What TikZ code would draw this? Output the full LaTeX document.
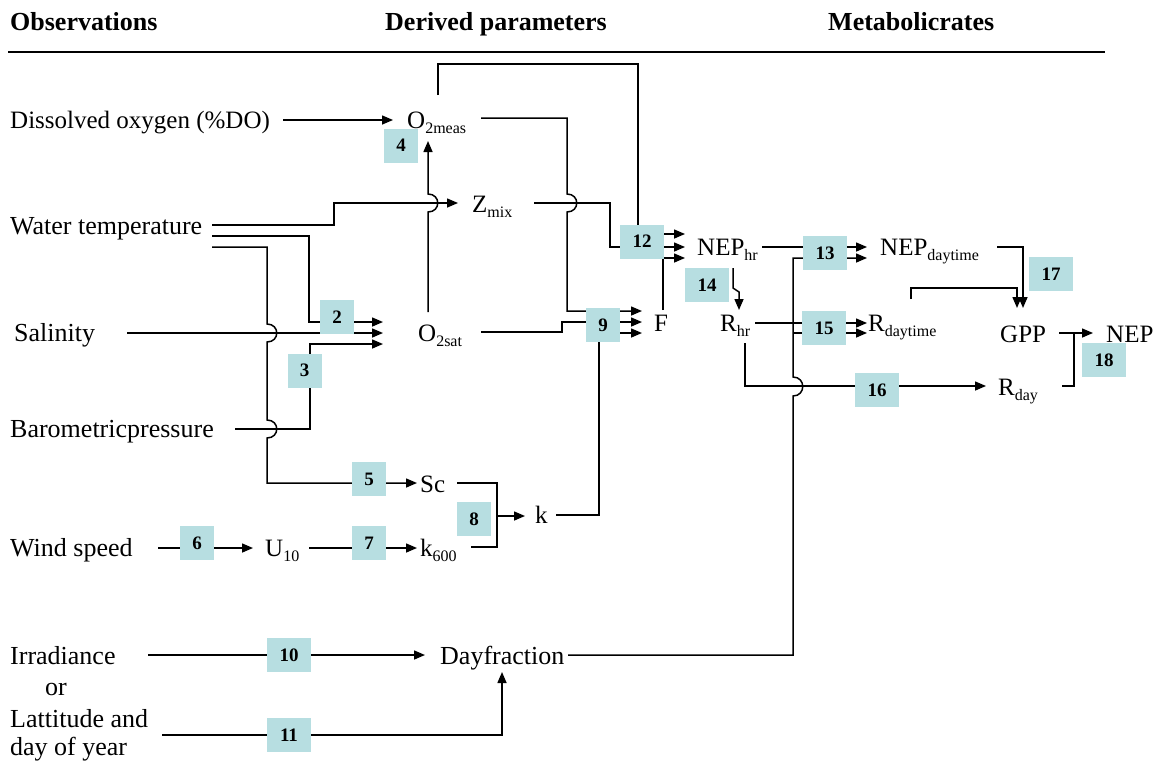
\documentclass[tikz,border=0pt]{standalone}
\usepackage{fontspec}
\setmainfont{Liberation Serif}
\usetikzlibrary{arrows.meta,backgrounds}
\definecolor{boxc}{RGB}{183,222,225}
\newcommand{\sbs}[1]{\raisebox{-5pt}{\fontsize{16}{16}\selectfont #1}}
\begin{document}
\begin{tikzpicture}[x=1pt,y=-1pt,
  txt/.style={anchor=base west, inner sep=0pt, font=\fontsize{25}{30}\selectfont},
  obs/.style={txt, font=\fontsize{26}{30}\selectfont},
  hdr/.style={anchor=base west, inner sep=0pt, font=\fontsize{26}{30}\selectfont\bfseries},
  nb/.style={fill=boxc, draw=none, minimum width=34pt, minimum height=34pt, inner sep=0pt, font=\fontsize{19}{19}\selectfont\bfseries},
  nbw/.style={nb, minimum width=44pt},
  conn/.style={line width=1.5pt},
  arr/.style={conn, -{Triangle[length=11pt,width=9pt]}}]
\useasboundingbox (0,0) rectangle (1158,763);

% headers
\node[hdr] (h1) at (10,30) {Observations};
\node[hdr] (h2) at (385,30) {Derived parameters};
\node[hdr] (h3) at (828,30) {Metabolicrates};
\draw[line width=1.2pt] (8,52) -- (1105,52);

% observations
\node[txt] (do) at (10,128) {Dissolved oxygen (\%DO)};
\node[obs] (wt) at (10,234) {Water temperature};
\node[obs] (sal) at (14,341) {Salinity};
\node[obs] (bp) at (10,437) {Barometricpressure};
\node[obs] (ws) at (10,556) {Wind speed};
\node[obs] (irr) at (10,664) {Irradiance};
\node[obs] (or) at (45,695) {or};
\node[obs] (lat) at (10,727) {Lattitude and};
\node[obs] (doy) at (10,755) {day of year};

% derived
\node[txt] (o2meas) at (407,128) {O\sbs{2meas}};
\node[txt] (zmix) at (472,212) {Z\sbs{mix}};
\node[txt] (o2sat) at (418,341) {O\sbs{2sat}};
\node[txt] (sc) at (420,492) {Sc};
\node[txt] (k) at (535,523) {k};
\node[txt] (u10) at (265,556) {U\sbs{10}};
\node[txt] (k600) at (420,556) {k\sbs{600}};
\node[txt] (F) at (654,331) {F};
\node[obs] (day) at (440,664) {Dayfraction};

% metabolic
\node[txt] (nephr) at (697,255) {NEP\sbs{hr}};
\node[txt] (rhr) at (720,331) {R\sbs{hr}};
\node[txt] (nepday) at (880,255) {NEP\sbs{daytime}};
\node[txt] (rdaytime) at (868,331) {R\sbs{daytime}};
\node[txt] (gpp) at (1000,342) {GPP};
\node[txt] (nep) at (1106,342) {NEP};
\node[txt] (rday) at (998,395) {R\sbs{day}};

% numbered boxes
\node[nb] (b2) at (337,317) {2};
\node[nb] (b3) at (304.5,370.5) {3};
\node[nb] (b4) at (401,145.5) {4};
\node[nb] (b5) at (369,479) {5};
\node[nb] (b6) at (197,543) {6};
\node[nb] (b7) at (369,543) {7};
\node[nb] (b8) at (474,519) {8};
\node[nb] (b9) at (603,325) {9};
\node[nbw] (b10) at (289,655) {10};
\node[nbw] (b11) at (289,735) {11};
\node[nbw] (b12) at (642,241.5) {12};
\node[nbw] (b13) at (825,253) {13};
\node[nbw] (b14) at (707,285) {14};
\node[nbw] (b15) at (824,328) {15};
\node[nbw] (b16) at (877,390) {16};
\node[nbw] (b17) at (1051,274) {17};
\node[nbw] (b18) at (1104,360) {18};

\begin{pgfonlayer}{background}
% DO -> O2meas
\draw[arr] (283,120) -- (393,120);
% O2meas top loop -> 12
\draw[arr] (438,95) -- (438,64) -- (638,64) -- (638,234) -- (685,234);
% O2meas -> 9
\draw[arr] (481,118) -- (567,118) -- (567,194) .. controls (580,194) and (580,212) .. (567,212) -- (567,311) -- (642,311);
% water temp -> Zmix
\draw[arr] (212,225) -- (334,225) -- (334,203) -- (458,203);
% O2sat -> O2meas (4)
\draw[arr] (428,312) -- (428,212) .. controls (441,212) and (441,194) .. (428,194) -- (428,141);
% Zmix -> 12
\draw[arr] (534,203) -- (610,203) -- (610,247) -- (685,247);
% F -> 12
\draw[arr] (663,310) -- (663,258) -- (685,258);
% water temp -> 2
\draw[arr] (212,236) -- (309,236) -- (309,322) -- (383,322);
% salinity -> 2
\draw[arr] (127,333) -- (383,333);
% barometric -> 3
\draw[arr] (235,429) -- (310,429) -- (310,344) -- (383,344);
% water temp -> 5 -> Sc
\draw[arr] (212,247) -- (267,247) -- (267,324) .. controls (280,324) and (280,342) .. (267,342)
  -- (267,420) .. controls (280,420) and (280,438) .. (267,438) -- (267,483) -- (417,483);
% O2sat -> 9
\draw[arr] (481,332) -- (562,332) -- (562,322) -- (642,322);
% k -> 9
\draw[arr] (556,515) -- (599,515) -- (599,333) -- (642,333);
% Sc, k600 -> 8 -> k
\draw[conn] (457,483) -- (497,483) -- (497,547) -- (471,547);
\draw[arr] (497,516) -- (525,516);
% wind -> 6 -> U10
\draw[arr] (158,548) -- (253,548);
% U10 -> 7 -> k600
\draw[arr] (309,548) -- (417,548);
% irradiance -> 10 -> Dayfraction
\draw[arr] (148,655) -- (425,655);
% latitude -> 11 -> Dayfraction
\draw[arr] (162,735) -- (502,735) -- (502,672);
% Dayfraction -> 13 and 15
\draw[arr] (568,655) -- (793,655) -- (793,396) .. controls (806,396) and (806,377) .. (793,377) -- (793,258) -- (867,258);
\draw[arr] (793,333) -- (867,333);
% NEPhr -> 13
\draw[arr] (762,247) -- (867,247);
% NEPhr -> 14 -> Rhr
\draw[arr] (733,268) -- (733,288) -- (739,292) -- (739,310);
% Rhr -> 15
\draw[arr] (755,323) -- (867,323);
% Rhr -> 16 -> Rday
\draw[arr] (745,343) -- (745,386) -- (986,386);
% NEPdaytime -> 17 -> GPP
\draw[arr] (997,247) -- (1023,247) -- (1023,308);
\draw[arr] (911,299) -- (911,288) -- (1017,288) -- (1017,308);
% GPP -> 18 -> NEP
\draw[arr] (1059,333) -- (1093,333);
\draw[conn] (1062,386) -- (1074,386) -- (1074,333);
\end{pgfonlayer}
\end{tikzpicture}
\end{document}
